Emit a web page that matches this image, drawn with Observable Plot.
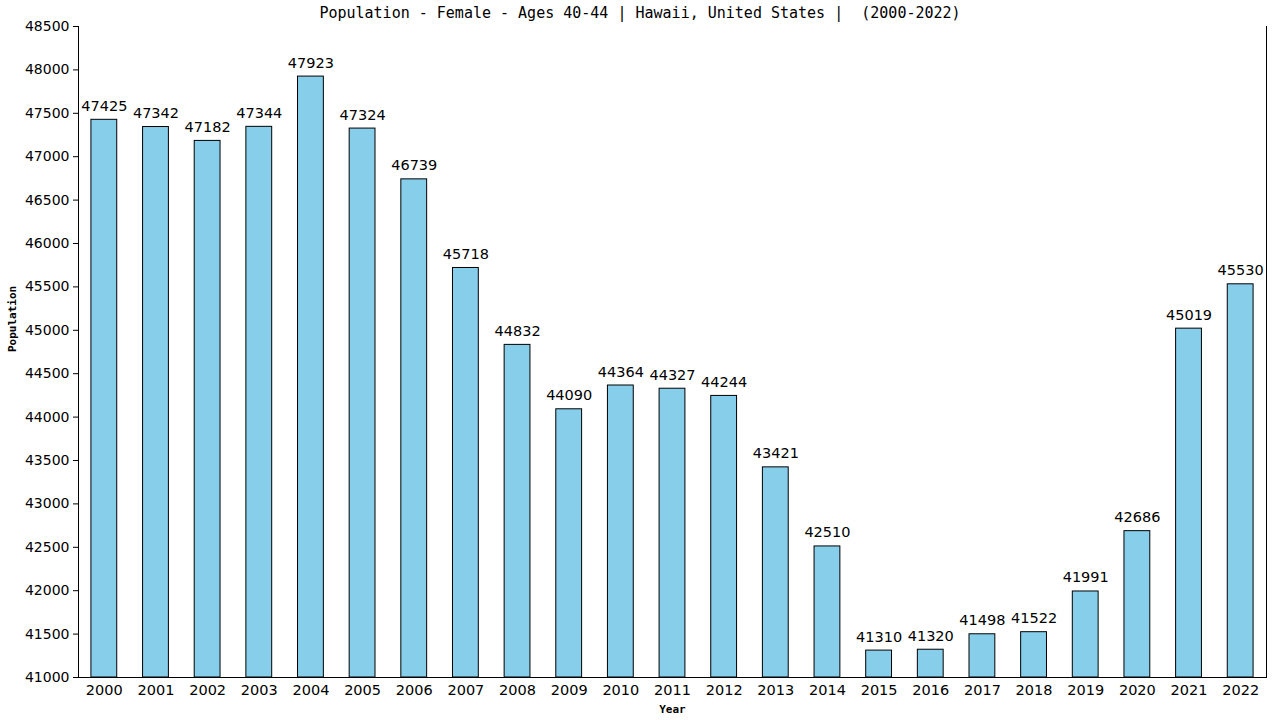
<!DOCTYPE html>
<html><head><meta charset="utf-8">
<script src="https://cdn.jsdelivr.net/npm/d3@7"></script>
<script src="https://cdn.jsdelivr.net/npm/@observablehq/plot@0.6"></script>
<style>
body{margin:0;background:#fff;}
#wrap{position:relative;width:1280px;height:720px;}
#title{position:absolute;left:0;top:4px;width:1280px;text-align:center;font-family:"DejaVu Sans Mono",monospace;font-size:15px;color:#000;}
</style>
</head><body>
<div id="wrap"><div id="title">Population - Female - Ages 40-44 | Hawaii, United States |&nbsp; (2000-2022)</div><div id="chart"></div></div>
<script>
const years = ["2000","2001","2002","2003","2004","2005","2006","2007","2008","2009","2010","2011","2012","2013","2014","2015","2016","2017","2018","2019","2020","2021","2022"];
const values = [47425,47342,47182,47344,47923,47324,46739,45718,44832,44090,44364,44327,44244,43421,42510,41310,41320,41498,41522,41991,42686,45019,45530];
const yTicks = [41000,41500,42000,42500,43000,43500,44000,44500,45000,45500,46000,46500,47000,47500,48000,48500];
const data = years.map((y,i)=>({year:y,value:values[i]}));
const font = "DejaVu Sans, sans-serif";
const chart = Plot.plot({
  width:1280, height:720,
  marginLeft:78, marginRight:14, marginTop:26, marginBottom:43,
  style:{fontFamily:font, fontSize:"14px", color:"#000", background:"#fff"},
  x:{domain:years, paddingInner:0.5, paddingOuter:0.25, round:false, label:null},
  y:{domain:[41000,48500], label:null},
  marks:[
    Plot.barY(data,{x:"year", y1:41000, y2:"value", fill:"#87CEEB", stroke:"#000", strokeWidth:1}),
    Plot.text(data,{x:"year", y:"value", text:d=>String(d.value), dy:-9, lineAnchor:"bottom", fontSize:14.5, fill:"#000"}),
    Plot.axisY({ticks:yTicks, tickFormat:d=>String(d), tickSize:5, tickPadding:4, fontSize:14, label:null}),
    Plot.frame({anchor:"left", stroke:"#000"}),
    Plot.frame({anchor:"right", stroke:"#000"}),
    Plot.frame({anchor:"bottom", stroke:"#000"}),
    Plot.axisX({tickSize:0, tickPadding:7, fontSize:14.5, label:null}),
    Plot.text(["Population"],{frameAnchor:"left", dx:-66, rotate:-90, fontSize:11, fontWeight:"bold", fontFamily:"DejaVu Sans Mono, monospace"}),
    Plot.text(["Year"],{frameAnchor:"bottom", dy:35, fontSize:11, fontWeight:"bold", fontFamily:"DejaVu Sans Mono, monospace"})
  ]
});
document.getElementById("chart").appendChild(chart);
</script>
</body></html>
